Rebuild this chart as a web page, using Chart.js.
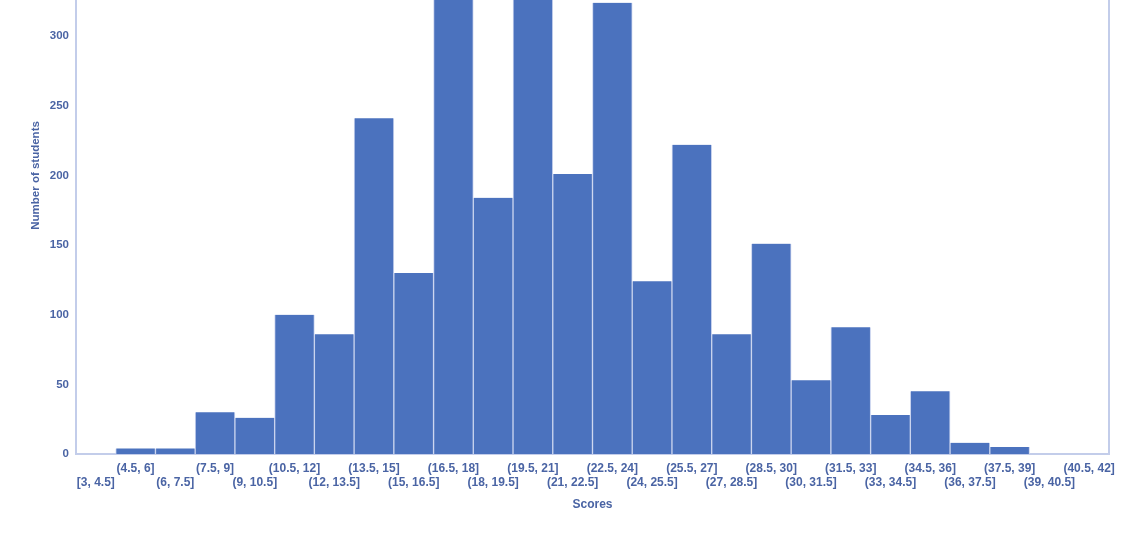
<!DOCTYPE html>
<html>
<head>
<meta charset="utf-8">
<script src="https://cdn.jsdelivr.net/npm/chart.js@4"></script>
<style>
  html, body { margin: 0; padding: 0; background: #fff; overflow: hidden; }
  #wrap { position: absolute; left: 0; top: -117px; width: 1140px; height: 667px; }
</style>
</head>
<body>
<div id="wrap"><canvas id="histChart" width="1140" height="667"></canvas></div>
<script>
const bins = ['[3, 4.5]', '(4.5, 6]', '(6, 7.5]', '(7.5, 9]', '(9, 10.5]', '(10.5, 12]', '(12, 13.5]',
  '(13.5, 15]', '(15, 16.5]', '(16.5, 18]', '(18, 19.5]', '(19.5, 21]', '(21, 22.5]', '(22.5, 24]',
  '(24, 25.5]', '(25.5, 27]', '(27, 28.5]', '(28.5, 30]', '(30, 31.5]', '(31.5, 33]', '(33, 34.5]',
  '(34.5, 36]', '(36, 37.5]', '(37.5, 39]', '(39, 40.5]', '(40.5, 42]'];
const students = [0, 4, 4, 30, 26, 100, 86, 241, 130, 338, 184, 362, 201, 324,
  124, 222, 86, 151, 53, 91, 28, 45, 8, 5, 0, 0];
const yTicks = [0, 50, 100, 150, 200, 250, 300, 350, 400];

const textColor = '#4a64a4';
const lineColor = '#c3cdea';

const ctx = document.getElementById('histChart').getContext('2d');

// Histogramme des scores
new Chart(ctx, {
    type: 'bar',
    data: {
        labels: bins,
        datasets: [{
            label: 'Number of students',
            data: students,
            backgroundColor: '#4b72be',
            borderColor: '#c9d3ee',
            borderWidth: { left: 1, right: 1, top: 0, bottom: 0 },
            barPercentage: 1,
            categoryPercentage: 1
        }]
    },
    options: {
        responsive: false,
        animation: false,
        layout: { padding: { left: 29, right: 23, top: 4, bottom: 34 } },
        plugins: { legend: { display: false }, tooltip: { enabled: false } },
        scales: {
            x: {
                grid: { display: false },
                border: { color: lineColor, width: 2 },
                ticks: {
                    autoSkip: false,
                    maxRotation: 0,
                    color: textColor,
                    font: { family: 'Arial, Liberation Sans', size: 12, weight: 'bold', lineHeight: 1.15 },
                    padding: 0,
                    callback: function (v, i) {
                        return i % 2 === 0 ? ['', bins[i]] : [bins[i], ''];
                    }
                },
                title: {
                    display: true,
                    text: 'Scores',
                    color: textColor,
                    font: { family: 'Arial, Liberation Sans', size: 12, weight: 'bold' },
                    padding: { top: 8 }
                }
            },
            y: {
                min: 0,
                max: 400,
                afterBuildTicks: function (axis) {
                    axis.ticks = yTicks.map(v => ({ value: v }));
                },
                grid: { display: false, drawTicks: false },
                border: { color: lineColor, width: 2 },
                ticks: {
                    color: textColor,
                    font: { family: 'Arial, Liberation Sans', size: 11.5, weight: 'bold' },
                    padding: 7
                },
                title: {
                    display: true,
                    text: 'Number of students',
                    color: textColor,
                    font: { family: 'Arial, Liberation Sans', size: 11.5, weight: 'bold' },
                    padding: { top: 0, bottom: 0 }
                }
            },
            y2: {
                position: 'right',
                min: 0,
                max: 400,
                grid: { display: false },
                border: { color: lineColor, width: 2 },
                ticks: { display: false }
            }
        }
    }
});
</script>
</body>
</html>
